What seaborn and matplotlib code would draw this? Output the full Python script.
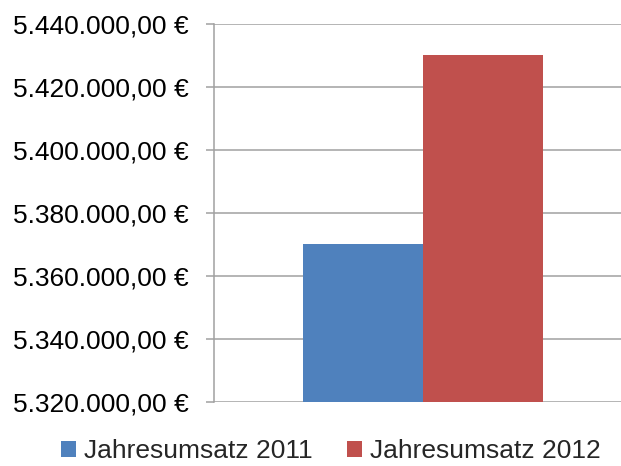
import matplotlib
matplotlib.use("Agg")
import matplotlib.pyplot as plt
import matplotlib.ticker as mticker
import seaborn as sns
import pandas as pd

categories = [""]
series = ["Jahresumsatz 2011", "Jahresumsatz 2012"]
values = [5370000, 5430000]
colors = ["#4F81BD", "#C0504D"]

df = pd.DataFrame({"cat": categories * len(series), "series": series, "value": values})

sns.set_theme(style="white")
plt.rcParams['font.family'] = ['Liberation Sans', 'DejaVu Sans']

fig = plt.figure(figsize=(6.21, 4.66), dpi=100)
ax = fig.add_axes([214/621, 1 - 401.7/466, 1 - 214/621, (401.7 - 24)/466])

sns.barplot(data=df, x="cat", y="value", hue="series", palette=colors,
            width=0.8, saturation=1, ax=ax, legend=True)
for p in ax.patches:
    p.set_edgecolor("none")

ax.set_ylim(5320000, 5440000)
ax.set_yticks(range(5320000, 5440001, 20000))
ax.set_xlim(-209/300, (407 - 209)/300)

def fmt(v, pos):
    s = f"{v:,.2f}".replace(",", "X").replace(".", ",").replace("X", ".")
    return f"{s} €"
ax.yaxis.set_major_formatter(mticker.FuncFormatter(fmt))

ax.yaxis.grid(True, color="#a0a0a0", linewidth=1.1)
ax.set_axisbelow(True)
for s in ["top", "right", "bottom"]:
    ax.spines[s].set_visible(False)
ax.spines["left"].set_color("#a0a0a0")
ax.spines["left"].set_linewidth(1.1)
ax.tick_params(axis="y", which="major", length=6, width=1.1, color="#a0a0a0",
               pad=12, labelsize=19, labelcolor="black", left=True)
ax.tick_params(axis="x", bottom=False, labelbottom=False)
ax.set_xlabel("")
ax.set_ylabel("")

leg = ax.legend(loc="center", bbox_to_anchor=(331/621, 1 - 451/466),
                bbox_transform=fig.transFigure, ncol=2, frameon=False,
                fontsize=19, handlelength=0.56, handleheight=0.56,
                handletextpad=0.32, columnspacing=1.3, borderaxespad=0,
                borderpad=0)

fig.savefig("out.png", dpi=100)
